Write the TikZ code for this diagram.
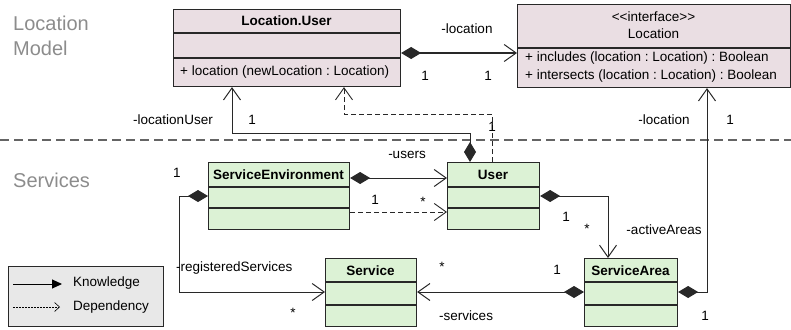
\documentclass[tikz,border=0pt]{standalone}
\usepackage{fontspec}
\setmainfont{Liberation Sans}
\usetikzlibrary{arrows.meta,calc}
\definecolor{pinkfill}{RGB}{234,222,227}
\definecolor{greenfill}{RGB}{220,242,213}
\definecolor{legfill}{RGB}{232,232,232}
\definecolor{graytext}{RGB}{140,140,140}
\definecolor{sepgray}{RGB}{100,100,100}
\definecolor{edgecol}{RGB}{40,40,40}
\frenchspacing
\begin{document}
\begin{tikzpicture}[x=1pt,y=-1pt,
  every node/.style={font=\fontsize{13.5}{16}\selectfont\frenchspacing, inner sep=0pt, text=black},
  cls/.style={draw=edgecol, line width=1.1pt, rectangle, anchor=north west, inner sep=0pt},
  pinkcls/.style={cls, fill=pinkfill},
  greencls/.style={cls, fill=greenfill},
  ctitle/.style={font=\fontsize{13.5}{16}\selectfont\bfseries},
  sectline/.style={draw=edgecol, line width=1.1pt},
  assoc/.style={draw=edgecol, line width=1pt, {Diamond[length=20pt,width=12pt]}-{Straight Barb[length=12pt,width=17pt]}},
  depend/.style={draw=edgecol, line width=0.9pt, dash pattern=on 5pt off 3pt, -{Straight Barb[length=12pt,width=17pt]}},
  region/.style={text=graytext, font=\fontsize{20}{24}\selectfont, anchor=west},
  sepline/.style={draw=sepgray, line width=1.2pt, dash pattern=on 9pt off 5pt},
]
\useasboundingbox (0,0) rectangle (791,329);

% region labels and separator
\node[region] (lm1) at (13,23) {Location};
\node[region] (lm2) at (13,48) {Model};
\node[region] (srv) at (13,180) {Services};
\coordinate (sepL) at (0,140);
\coordinate (sepR) at (791,140);
\draw[sepline] (sepL) -- (sepR);

% classes
\node[pinkcls, minimum width=227pt, minimum height=77pt] (LU) at (173,9) {};
\draw[sectline] ($(LU.north west)+(0,24)$) -- ($(LU.north east)+(0,24)$);
\draw[sectline] ($(LU.north west)+(0,49)$) -- ($(LU.north east)+(0,49)$);
\node[ctitle] (LUt) at (286.5,21) {Location.User};
\node[anchor=west] (LUm) at (180,72) {+ location (newLocation : Location)};

\node[pinkcls, minimum width=273pt, minimum height=83pt] (Loc) at (517,4) {};
\draw[sectline] ($(Loc.north west)+(0,44)$) -- ($(Loc.north east)+(0,44)$);
\node (Loct1) at (653.5,17) {{<}{<}interface{>}{>}};
\node (Loct2) at (653.5,34) {Location};
\node[anchor=west] (Locm1) at (525,58.5) {+ includes (location : Location) : Boolean};
\node[anchor=west] (Locm2) at (525,76) {+ intersects (location : Location) : Boolean};

\node[greencls, minimum width=141pt, minimum height=67pt] (SE) at (208,162) {};
\draw[sectline] ($(SE.north west)+(0,25)$) -- ($(SE.north east)+(0,25)$);
\draw[sectline] ($(SE.north west)+(0,46)$) -- ($(SE.north east)+(0,46)$);
\node[ctitle] (SEt) at (278.5,175) {ServiceEnvironment};

\node[greencls, minimum width=92pt, minimum height=67pt] (User) at (447,162) {};
\draw[sectline] ($(User.north west)+(0,25)$) -- ($(User.north east)+(0,25)$);
\draw[sectline] ($(User.north west)+(0,46)$) -- ($(User.north east)+(0,46)$);
\node[ctitle] (Usert) at (493,175) {User};

\node[greencls, minimum width=91pt, minimum height=68pt] (Service) at (325,258) {};
\draw[sectline] ($(Service.north west)+(0,24)$) -- ($(Service.north east)+(0,24)$);
\draw[sectline] ($(Service.north west)+(0,47)$) -- ($(Service.north east)+(0,47)$);
\node[ctitle] (Servicet) at (370.5,270.5) {Service};

\node[greencls, minimum width=93pt, minimum height=68pt] (SA) at (584,258) {};
\draw[sectline] ($(SA.north west)+(0,24)$) -- ($(SA.north east)+(0,24)$);
\draw[sectline] ($(SA.north west)+(0,47)$) -- ($(SA.north east)+(0,47)$);
\node[ctitle] (SAt) at (630.5,270.5) {ServiceArea};

% connectors
\draw[assoc] ($(LU.north east)+(0,44)$) -- ($(Loc.north west)+(0,49)$);
\node (l1) at (467,29) {-location};
\node (l1a) at (425,76) {1};
\node (l1b) at (488,76) {1};

\draw[assoc] ($(User.north west)+(23,0)$) |- ($(LU.south west)+(59,46)$) -- ($(LU.south west)+(59,0)$);
\node (l2) at (173,120) {-locationUser};
\node (l2a) at (252,120) {1};

\draw[depend] ($(User.north west)+(45,0)$) |- ($(LU.south west)+(171,27)$) -- ($(LU.south west)+(171,0)$);
\node (l3a) at (492,127) {1};

\draw[assoc] ($(SA.north east)+(0,34)$) -| ($(Loc.south west)+(190,0)$);
\node (l4) at (664,120) {-location};
\node (l4a) at (730,120) {1};
\node (l4b) at (705,316) {1};

\draw[assoc] ($(SE.north east)+(0,16)$) -- ($(User.north west)+(0,16)$);
\node (l5) at (407,155) {-users};

\draw[depend] ($(SE.north east)+(0,50)$) -- ($(User.north west)+(0,50)$);
\node (l6a) at (375,200) {1};
\node (l6b) at (423,202) {*};

\draw[assoc] ($(SE.north west)+(0,34)$) -- ++(-29,0) |- ($(Service.north west)+(0,34)$);
\node (l7a) at (177,173) {1};
\node[anchor=west] (l7) at (176,268) {-registeredServices};
\node (l7b) at (293,313) {*};

\draw[assoc] ($(SA.north west)+(0,34)$) -- ($(Service.north east)+(0,34)$);
\node (l8a) at (442,267) {*};
\node (l8b) at (557,270) {1};
\node (l8) at (466,316) {-services};

\draw[assoc] ($(User.north east)+(0,34)$) -| ($(SA.north west)+(24,0)$);
\node (l9a) at (566,217) {1};
\node (l9b) at (587,229) {*};
\node (l9) at (664,230) {-activeAreas};

% legend
\node[draw=edgecol, line width=1pt, fill=legfill, anchor=north west, minimum width=155pt, minimum height=60pt] (leg) at (8,266) {};
\coordinate (k1) at (13,284);
\coordinate (k2) at (62,284);
\draw[draw=black, line width=1pt, -{Triangle[length=10pt,width=9pt]}] (k1) -- (k2);
\node[anchor=west] (kt) at (73,283) {Knowledge};
\coordinate (d1) at (13,307);
\coordinate (d2) at (60,307);
\draw[draw=black, line width=0.6pt, dash pattern=on 2pt off 1pt, -{Straight Barb[length=5pt,width=9pt]}] (d1) -- (d2);
\node[anchor=west] (dt) at (73,307) {Dependency};
\end{tikzpicture}
\end{document}
